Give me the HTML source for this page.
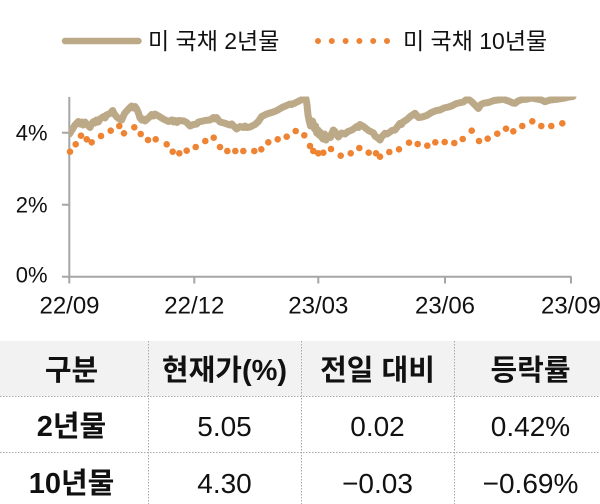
<!DOCTYPE html>
<html>
<head>
<meta charset="utf-8">
<style>
html,body{margin:0;padding:0;background:#fff;}
body{width:600px;height:504px;overflow:hidden;}
svg{display:block;}
text{font-family:"Liberation Sans","Noto Sans CJK KR","NanumGothic",sans-serif;fill:#111;}
</style>
</head>
<body>
<svg width="600" height="504" viewBox="0 0 600 504" xmlns="http://www.w3.org/2000/svg">
<defs><clipPath id="plot"><rect x="69" y="96.5" width="520" height="200"/></clipPath></defs>
<line x1="65" y1="41" x2="138.5" y2="41" stroke="#bba988" stroke-width="6.5" stroke-linecap="round"/>
<text x="148" y="49" font-size="23">미 국채 2년물</text>
<path d="M318 41h0M331.8 41h0M345.6 41h0M359.4 41h0M373.2 41h0M387 41h0" stroke="#ee8433" stroke-width="6" stroke-linecap="round" fill="none"/>
<text x="403" y="49" font-size="23">미 국채 10년물</text>
<path d="M69.3 97V277M68.3 276.7H571.5M62 132.7H69.3M62 204.7H69.3M62 276.7H69.3M69.3 276.7V283.5M194.3 276.7V283.5M318.3 276.7V283.5M445 276.7V283.5M571 276.7V283.5" stroke="#a6a6a6" stroke-width="2" fill="none"/>
<g font-size="22" text-anchor="end">
<text x="47.5" y="140.5">4%</text>
<text x="47.5" y="212.5">2%</text>
<text x="47.5" y="282.5">0%</text>
</g>
<g font-size="24" text-anchor="middle">
<text x="69.5" y="313.5">22/09</text>
<text x="194.3" y="313.5">22/12</text>
<text x="318.3" y="313.5">23/03</text>
<text x="445" y="313.5">23/06</text>
<text x="571" y="313.5">23/09</text>
</g>
<g clip-path="url(#plot)">
<polyline fill="none" stroke="#bba988" stroke-width="7" stroke-linejoin="round" stroke-linecap="round" points="69.5,134 72,130 75,125 78.3,121.5 80,124 81.7,122 83,125 85,122 86.7,124 90,127.5 91.5,124 93.3,121.7 95,123 96.5,120 98.3,122 100,119 103.3,116.7 105,118 106.5,115 110,113.5 112.7,110.5 114,113.5 116.7,117 120,119.5 121.7,120 124.5,113.5 126.7,111 130,107.5 131.7,106 133.5,108 135,106.5 136.7,109 138.5,113 140,118 141.7,120 143.5,119 145,121 146.7,119.5 150,116.5 151.7,114.5 153.5,116 155,114 158.5,116 163.3,119 168.5,121.5 172,120 173.5,122 175,120.5 177,122.5 178.5,120.5 184,121 186.7,122.5 190,126 193.5,124.5 196.7,124 198.5,122 205,120.5 210,120 213.5,117.5 215,119 216.5,117.5 220,122 224,123 230,125 231.7,124 236.7,129 240,126.5 243.5,127.5 245,126 246.7,127.5 250,127 255,124.5 258.3,121.5 261.7,116.5 266.7,114 270,113 273.3,112 277,110.5 282,107.5 286.7,105.5 290,104 291.5,104.5 295,103 300,100.5 303.3,99 305,98.5 306,99 307,105 308,115 309,120 310.5,126 311.5,123 312.5,121 313.5,124 314.5,129 315.5,126 316.7,133 318,130 319,135 320,132 321.5,137 323,139 324.5,134 326,140 327.5,137 329,136 330.5,137.5 332,133 333.3,130 335,131.5 336.5,134 338.3,137 341.5,133 345,134 348,131.5 352,130 356.7,126.5 358.5,127.5 360,124.5 363.5,126.5 368.5,130.5 373.5,133 375,136 378.5,138.5 380,140 381.5,137 385,133.3 387,134 390,132 392,130.5 395,130 398,126 400,123.3 401.5,124.5 403,122 407,119.5 410,116.7 415,113.3 418.5,117.5 422,117 426.7,115.5 431.5,112.5 436.5,110.5 440,110 444,108 448.5,107 451.5,106 456.5,103.5 463.3,102 466.5,99.5 468.3,99.3 471.5,101.5 475,105 478.3,108.5 481,104.5 483.3,103.3 488.5,102.5 494,100.5 503.3,99.3 508.5,101 513,103 515,103.3 518,101 522,99.5 526.7,99.3 531.5,98 537,99 541.5,100 545,101.7 550,100 556.7,99.3 563.3,98.3 569,97 573,96.5"/>
</g>
<path fill="none" stroke="#ee8433" stroke-width="6.6" stroke-linecap="round" d="M70 151.7h0M75.7 144.3h0M81 135.7h0M86.7 139.3h0M91.7 142.3h0M101 136h0M110.7 130.7h0M119.3 126h0M124 133.3h0M134.3 127.3h0M140.7 134h0M148 140h0M155.7 139.3h0M166.7 144.3h0M172.7 151.7h0M179.3 153.3h0M186.7 150.7h0M195.7 147h0M205.3 141h0M213.7 137.7h0M220 147h0M227.3 151h0M235.3 151h0M243.3 151h0M254.3 151h0M261.3 149.3h0M268.3 142.3h0M277.7 139.3h0M286.7 136.7h0M295.7 131h0M304.3 135.3h0M310 146h0M313.3 151h0M318.3 153.3h0M323.3 152.7h0M331 149h0M340.7 155.7h0M350.7 153.3h0M359.3 148h0M368.7 152.7h0M376 153.3h0M380 156.7h0M389.3 152h0M399 149.3h0M409 142.7h0M417.7 144h0M427.3 145.7h0M435.3 142.3h0M444.7 142h0M454.3 143h0M462.7 139h0M471.7 130.7h0M479 141h0M487.7 138.7h0M497.3 133.7h0M506 128.7h0M513.3 131.3h0M522.3 126h0M532.3 121.3h0M541.3 126h0M551.3 126h0M562.3 123.3h0"/>
<rect x="0" y="341" width="600" height="55" fill="#f2f2f2"/>
<path d="M0 396.5H600M0 452.5H600M148.5 341V504M301.5 341V504M454.5 341V504" stroke="#a9a9a9" stroke-width="1" stroke-dasharray="1.5,1.5" fill="none"/>
<g font-size="29" font-weight="bold" text-anchor="middle">
<text x="71.5" y="380">구분</text>
<text x="224.5" y="380">현재가(%)</text>
<text x="377.5" y="380">전일 대비</text>
<text x="530.5" y="380">등락률</text>
<text x="71.5" y="436">2년물</text>
<text x="71.5" y="493">10년물</text>
</g>
<g font-size="28" text-anchor="middle">
<text x="224.5" y="436">5.05</text>
<text x="377.5" y="436">0.02</text>
<text x="530.5" y="436">0.42%</text>
<text x="224.5" y="493">4.30</text>
<text x="377.5" y="493">−0.03</text>
<text x="530.5" y="493">−0.69%</text>
</g>
</svg>
</body>
</html>
